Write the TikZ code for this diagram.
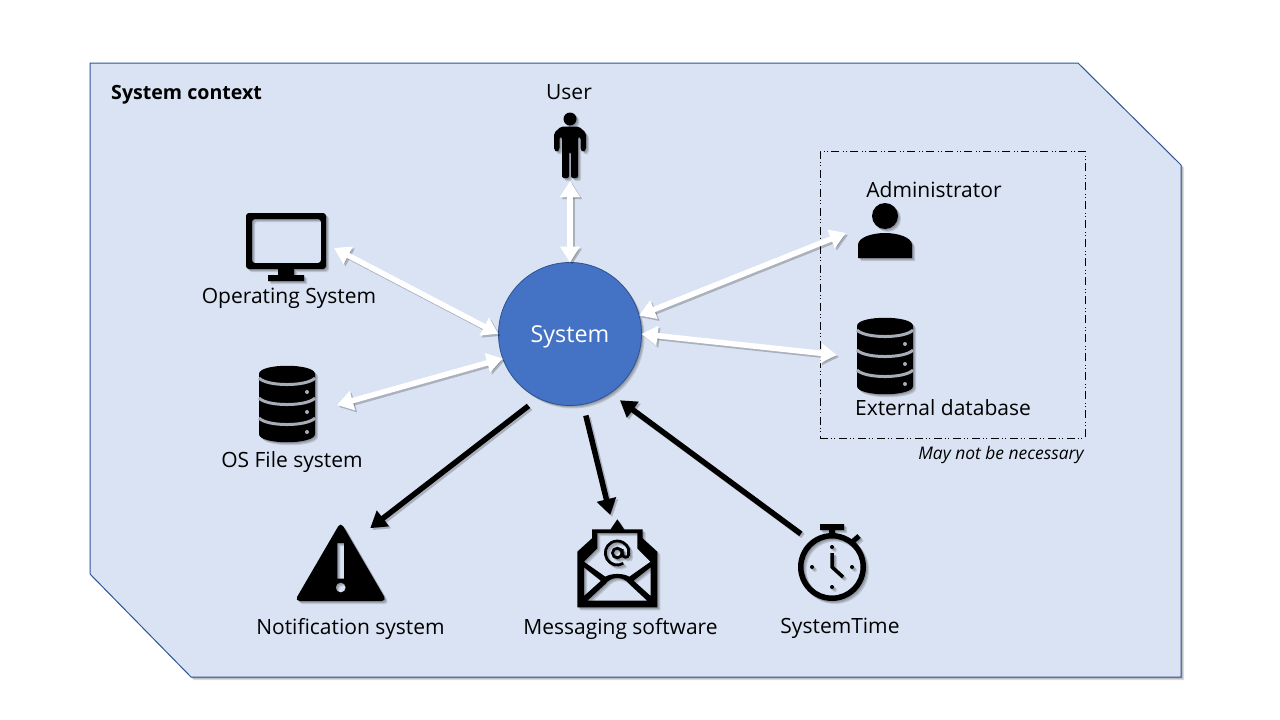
\documentclass[tikz,border=0pt]{standalone}
\usepackage{fontspec}
\setmainfont{Open Sans}
\usetikzlibrary{arrows.meta}

\definecolor{ctxfill}{HTML}{DAE3F3}
\definecolor{ctxline}{HTML}{2F5597}
\definecolor{sysfill}{HTML}{4472C4}
\definecolor{sysline}{HTML}{2F528F}
\definecolor{gapgray}{HTML}{A6ACB8}

\tikzset{
    lbl/.style={font=\fontsize{21}{25}\selectfont,inner sep=0pt,text depth=0pt,text=black},
    iconspot/.style={circle,minimum size=#1,inner sep=0pt,outer sep=0pt},
    iconfill/.style={fill=black},
    iconline/.style={draw=black},
    icongap/.style={draw=gapgray},
    biarrow/.style={{Triangle[width=19pt,length=16pt]}-{Triangle[width=19pt,length=16pt]},line width=5.5pt,white},
    onearrow/.style={-{Triangle[width=19pt,length=16pt]},line width=5.5pt,black},
    arrowshade/.style={black,opacity=.22,transform canvas={xshift=2pt,yshift=-2pt}},
    pics/dbicon/.style={code={
        \fill[iconfill] (-28,-30) .. controls (-28,-41) and (28,-41) .. (28,-30) -- (28,30)
            .. controls (28,41) and (-28,41) .. (-28,30) -- cycle;
        \foreach \g in {-26,-6,14}{
            \draw[icongap,line width=3pt] (-28,\g) .. controls (-20,\g+8.7) and (20,\g+8.7) .. (28,\g);
        }
        \foreach \g in {-12,8,28}{
            \fill[icongap,fill=gapgray,draw=none] (20,\g) circle (2);
        }
    }},
    pics/usericon/.style={code={
        \fill[iconfill] (0,-27) circle (6.5);
        \fill[iconfill,rounded corners=2pt] (-9,-19.5) -- (9,-19.5) -- (16,-13) -- (16,4) -- (13,6.5) -- (10.5,4)
            -- (10.5,-9) -- (8,-9) -- (8,32) -- (1,32) -- (1,6) -- (-1,6) -- (-1,32) -- (-8,32) -- (-8,-9)
            -- (-10.5,-9) -- (-10.5,4) -- (-13,6.5) -- (-16,4) -- (-16,-13) -- cycle;
    }},
    pics/screenicon/.style={code={
        \fill[iconfill,even odd rule,rounded corners=3pt] (-40,-34) rectangle (40,22) (-34,-28) rectangle (35,16);
        \fill[iconfill] (-8,22) rectangle (8,28) (-18,28) rectangle (18,34);
    }},
    pics/adminicon/.style={code={
        \fill[iconfill] (0,-15) circle (13);
        \fill[iconfill] (-27,27) -- (-27,14) .. controls (-27,6) and (-12,2) .. (0,2)
            .. controls (12,2) and (27,6) .. (27,14) -- (27,27) -- cycle;
    }},
    pics/warnicon/.style={code={
        \fill[iconfill,even odd rule,rounded corners=5pt] (0,-41) -- (46,38) -- (-46,38) -- cycle
            [sharp corners] (-3.4,-20) rectangle (3.4,15.5) (0,24.5) circle (5);
    }},
    pics/mailicon/.style={code={
        \fill[iconfill,even odd rule] (0,-43.7) -- (6.7,-33.7) -- (25.3,-33.7) -- (25.3,-24.7) -- (40,-11.3)
            -- (40,44.3) -- (-40,44.3) -- (-40,-11.3) -- (-25.3,-24.7) -- (-25.3,-33.7) -- (-6.7,-33.7) -- cycle
            (-20,-30) -- (20,-30) -- (20,-14.7) -- (33.3,-1.3) -- (12,13.7) .. controls (6,10) and (-6,10) .. (-12,13.7)
            -- (-33.3,-1.3) -- (-20,-14.7) -- cycle
            (-33.3,4.3) -- (-16.3,17.7) -- (-33.3,33) -- cycle
            (33.3,4.3) -- (16.3,17.7) -- (33.3,33) -- cycle
            (-30,37.7) -- (-12,21) .. controls (-6,13) and (6,13) .. (12,21) -- (30,37.7) -- cycle;
        \draw[iconline,line width=2.8pt] (0,-10) circle (4.8);
        \draw[iconline,line width=2.8pt] (6,0.4) arc[start angle=60,delta angle=280,radius=12]
            -- (11.3,-8) .. controls (11.3,-5) and (5,-5) .. (5,-9) -- (5,-14);
    }},
    pics/clockicon/.style={code={
        \fill[iconfill,even odd rule] (0,0) circle (34) (0,0) circle (28.5);
        \fill[iconfill] (-12,-43) rectangle (12,-37) (-3,-37) rectangle (3,-32);
        \draw[iconline,line width=5pt] (19,-24) -- (27,-31);
        \foreach \p in {{0,-20},{-20,0},{20,0},{0,20}}{
            \fill[iconfill] (\p) circle (2);
        }
        \draw[iconline,line width=3.5pt] (0,-14) -- (0,0) -- (11,10);
    }},
}

% soft copies first, then the icon itself
\newcommand{\placeicon}[2]{
    \foreach \d in {1,2,3}{
        \begin{scope}[shift={(\d,\d)},iconfill/.style={fill=black,fill opacity=.13},
            iconline/.style={draw=black,draw opacity=.13},icongap/.style={draw=none}]
            \pic at (#1) {#2};
        \end{scope}
    }
    \pic at (#1) {#2};
}

\begin{document}
\begin{tikzpicture}[x=1pt,y=-1pt]
    \useasboundingbox[fill=white] (0,0) rectangle (1280,720);

    % context area
    \foreach \d in {1,2,3}{
        \fill[black,opacity=.13,shift={(\d,\d)}] (90,63) -- (1078,63) -- (1181,165) -- (1181,677) -- (191,677) -- (90,574) -- cycle;
    }
    \filldraw[fill=ctxfill,draw=ctxline,line width=1pt] (90,63) -- (1078,63) -- (1181,165) -- (1181,677) -- (191,677) -- (90,574) -- cycle;
    \node[lbl,font=\fontsize{19.6}{24}\selectfont\bfseries,anchor=west] (ctxtitle) at (111,92) {System context};

    \node[draw=black,line width=.8pt,dash pattern=on 8pt off 2.7pt on 1pt off 2.7pt on 1pt off 3.6pt,
        minimum width=265pt,minimum height=287pt,inner sep=0pt] (optbox) at (952.5,294.5) {};
    \node[lbl,font=\fontsize{17.4}{21}\selectfont\itshape] (optnote) at (1001,453) {May not be necessary};

    % middle
    \foreach \d in {1,2,3}{
        \fill[black,opacity=.13,shift={(\d,\d)}] (570,334) circle (71.5);
    }
    \node[circle,fill=sysfill,draw=sysline,line width=.8pt,minimum size=143pt,inner sep=0pt,outer sep=0pt,
        text=white,text depth=0pt,font=\fontsize{23.3}{28}\selectfont] (sys) at (570,334) {System};
    \node[iconspot=166pt] (sysring) at (570,334) {};

    % where the arrows stop
    \node[iconspot=70pt] (user) at (570,146) {};
    \node[iconspot=96pt] (screen) at (286,248) {};
    \node[iconspot=100pt] (osfiles) at (287,405) {};
    \node[iconspot=78pt] (admin) at (885,233) {};
    \node[iconspot=96pt] (extdb) at (885,355) {};
    \node[iconspot=91pt] (warn) at (341,563) {};
    \node[iconspot=97pt] (mail) at (617,563) {};
    \node[iconspot=88pt] (clock) at (832,565) {};

    \placeicon{570,146}{usericon}
    \placeicon{286,247}{screenicon}
    \placeicon{287,404}{dbicon}
    \placeicon{885,231}{adminicon}
    \placeicon{885,356}{dbicon}
    \placeicon{340.7,563}{warnicon}
    \placeicon{617.3,563}{mailicon}
    \placeicon{832,567}{clockicon}

    \node[lbl] (userlbl) at (569,92) {User};
    \node[lbl] (screenlbl) at (289,296) {Operating System};
    \node[lbl] (osfileslbl) at (292,460) {OS File system};
    \node[lbl] (adminlbl) at (934,190) {Administrator};
    \node[lbl] (extdblbl) at (943,408) {External database};
    \node[lbl] (warnlbl) at (350.5,626) {Notification system};
    \node[lbl] (maillbl) at (620.5,626) {Messaging software};
    \node[lbl] (clocklbl) at (840,626) {SystemTime};

    \foreach \a/\b in {sys.90/user.270,sys.180/screen.0,sys.200/osfiles.0,sys.15/admin.180,sys.0/extdb.180}{
        \draw[biarrow,arrowshade] (\a) -- (\b);
        \draw[biarrow] (\a) -- (\b);
    }
    \foreach \a/\b in {sysring.240/warn.50,sysring.281/mail.98,clock.135/sysring.307}{
        \draw[onearrow,arrowshade] (\a) -- (\b);
        \draw[onearrow] (\a) -- (\b);
    }
\end{tikzpicture}
\end{document}
